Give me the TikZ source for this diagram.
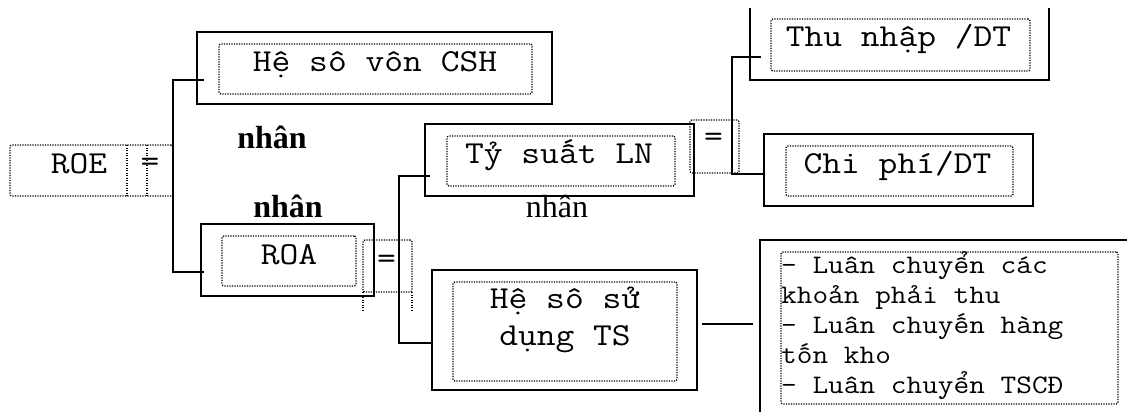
\documentclass[tikz,border=0pt]{standalone}
\usepackage{fontspec}
\setmainfont{Liberation Serif}
\newfontfamily\cour[FakeStretch=1.14]{Latin Modern Mono}
\usetikzlibrary{fit}
\begin{document}
\begin{tikzpicture}[x=1pt,y=-1pt,
  outer/.style={draw, line width=1.8pt, inner sep=0pt, outer sep=0pt, rectangle},
  dotbox/.style={draw, line width=1.3pt, dash pattern=on 1.2pt off 1.3pt, rounded corners=2pt, inner sep=0pt, outer sep=0pt, rectangle},
  dotline/.style={line width=1.3pt, dash pattern=on 1.2pt off 1.3pt},
  conn/.style={line width=1.7pt},
  mono/.style={font=\cour\fontsize{32}{37}\selectfont, inner sep=0pt, anchor=base},
  listtxt/.style={font=\cour\fontsize{26.7}{30}\selectfont, inner sep=0pt, anchor=base west},
  boldlbl/.style={font=\bfseries\fontsize{32}{36}\selectfont, inner sep=0pt, anchor=base},
  plainlbl/.style={font=\fontsize{32}{36}\selectfont, inner sep=0pt, anchor=base}]
\useasboundingbox (0,0) rectangle (1127,412);
\clip (0,9) rectangle (1127,412);
% ROE
\node[dotbox, fit={(10,145) (173,196)}] (roe) {};
\draw[dotline] (127,145) -- (127,196) (147,145) -- (147,196);
\node[mono] (roet) at (79,173) {ROE};
\node[mono] (roeeq) at (150,171) {=};
% Hệ số vốn CSH
\node[outer, fit={(197,32) (552,104)}] (vcsh) {};
\node[dotbox, fit={(219,44) (532,94)}] (vcshin) {};
\node[mono] (vcsht) at (375,72) {Hệ sô vôn CSH};
% labels
\node[boldlbl] (n1) at (272,148) {nhân};
\node[boldlbl] (n2) at (288,217) {nhân};
\node[plainlbl] (n3) at (557,217) {nhân};
% ROA
\node[outer, fit={(201,224) (374,296)}] (roa) {};
\node[dotbox, fit={(222,236) (356,286)}] (roain) {};
\node[mono] (roat) at (289,264) {ROA};
\node[dotbox, fit={(363,240) (412,292)}] (eqroa) {};
\draw[dotline] (363,292) -- (363,311) (412,292) -- (412,311);
\node[mono] (roaeq) at (386.5,268) {=};
% Tỷ suất LN
\node[outer, fit={(425,124) (694,196)}] (tsln) {};
\node[dotbox, fit={(447,136) (675,186)}] (tslnin) {};
\node[mono] (tslnt) at (559,163) {Tỷ suất LN};
\node[dotbox, fit={(690,120) (739,173)}] (eqtsln) {};
\node[mono] (tslneq) at (713.5,146) {=};
% Thu nhập /DT
\node[outer, fit={(750,-20) (1049,80)}] (thu) {};
\node[dotbox, fit={(771,19) (1030,71)}] (thuin) {};
\node[mono] (thut) at (898.5,47) {Thu nhập /DT};
% Chi phí/DT
\node[outer, fit={(764,134) (1033,206)}] (chi) {};
\node[dotbox, fit={(786,146) (1013,196)}] (chiin) {};
\node[mono] (chit) at (897.5,173) {Chi phí/DT};
% Hệ số sử dụng TS
\node[outer, fit={(432,270) (697,390)}] (hsts) {};
\node[dotbox, fit={(453,282) (677,381)}] (hstsin) {};
\node[mono] (hstst1) at (565,308) {Hệ sô sử};
\node[mono] (hstst2) at (565,345) {dụng TS};
% list
\node[outer, fit={(760,240) (1140,430)}] (lst) {};
\node[dotbox, fit={(781,252) (1118,404)}] (lstin) {};
\node[listtxt] (l1) at (781,273) {– Luân chuyển các};
\node[listtxt] (l2) at (781,303) {khoản phải thu};
\node[listtxt] (l3) at (781,333) {– Luân chuyến hàng};
\node[listtxt] (l4) at (781,363) {tốn kho};
\node[listtxt] (l5) at (781,393) {– Luân chuyển TSCĐ};
% connectors
\coordinate (a1) at (204,80);
\coordinate (a2) at (204,272);
\draw[conn] (a1) -| (roe.east) |- (a2);
\coordinate (b1) at (430,176);
\coordinate (bj) at (399,260);
\coordinate (b2) at (432,343);
\draw[conn] (b1) -| (bj) |- (b2);
\coordinate (c1) at (761,57);
\coordinate (cj) at (732,120);
\coordinate (c2) at (764,174);
\draw[conn] (c1) -| (cj) |- (c2);
\coordinate (d1) at (702,324);
\coordinate (d2) at (753,324);
\draw[conn] (d1) -- (d2);
\end{tikzpicture}
\end{document}
